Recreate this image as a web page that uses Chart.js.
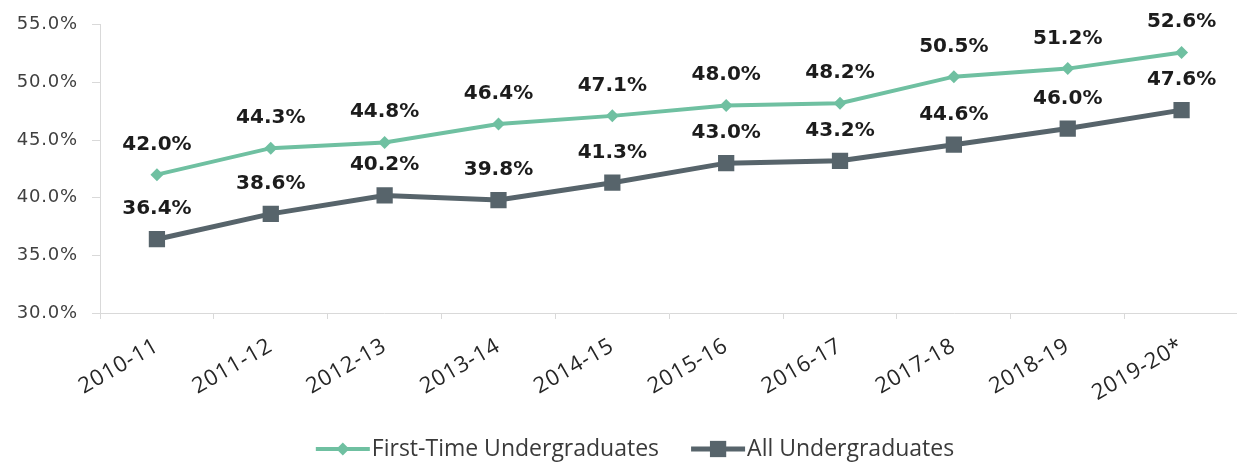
<!DOCTYPE html>
<html>
<head>
<meta charset="utf-8">
<script src="https://cdn.jsdelivr.net/npm/chart.js@4"></script>
<style>
  html, body { margin: 0; padding: 0; background: #fff; overflow: hidden; }
  #wrap { width: 1250px; height: 463px; }
</style>
</head>
<body>
<div id="wrap"><canvas id="gradChart" width="1250" height="463"></canvas></div>
<script>
// Graduation rates by academic year
const years = ['2010-11', '2011-12', '2012-13', '2013-14', '2014-15', '2015-16', '2016-17', '2017-18', '2018-19', '2019-20*'];
const firstTimeRates = [42.0, 44.3, 44.8, 46.4, 47.1, 48.0, 48.2, 50.5, 51.2, 52.6];
const allRates = [36.4, 38.6, 40.2, 39.8, 41.3, 43.0, 43.2, 44.6, 46.0, 47.6];
const yTicks = [30, 35, 40, 45, 50, 55];

const GREEN = '#6fc0a1';
const SLATE = '#57646b';
const AXIS = '#d9d9d9';

// slightly looser tracking for the axis text
const axisTracking = {
  id: 'axisTracking',
  beforeDraw(chart) { chart.ctx.letterSpacing = '0.8px'; },
  beforeDatasetsDraw(chart) { chart.ctx.letterSpacing = '0px'; }
};

// value labels above every point
const valueLabels = {
  id: 'valueLabels',
  afterDatasetsDraw(chart) {
    const ctx = chart.ctx;
    ctx.save();
    ctx.font = 'bold 20px "DejaVu Sans"';
    ctx.fillStyle = '#1c1c1c';
    ctx.textAlign = 'center';
    ctx.textBaseline = 'alphabetic';
    chart.data.datasets.forEach((ds, i) => {
      chart.getDatasetMeta(i).data.forEach((pt, j) => {
        ctx.fillText(ds.data[j].toFixed(1) + '%', pt.x, pt.y - 25);
      });
    });
    ctx.restore();
  }
};

// legend: line + marker swatch, then the series name
const lineLegend = {
  id: 'lineLegend',
  afterDraw(chart) {
    const ctx = chart.ctx;
    const y = 449;
    const swatch = 54;
    const gap = 32;
    ctx.save();
    ctx.font = '23px "Open Sans"';
    ctx.textBaseline = 'middle';
    const items = chart.data.datasets.map(ds => ({ ds, w: swatch + 2 + ctx.measureText(ds.label).width }));
    const total = items.reduce((s, it) => s + it.w, 0) + gap * (items.length - 1);
    let x = 635 - total / 2;
    items.forEach(({ ds, w }) => {
      ctx.strokeStyle = ds.borderColor;
      ctx.lineWidth = ds.borderWidth;
      ctx.beginPath();
      ctx.moveTo(x, y);
      ctx.lineTo(x + swatch, y);
      ctx.stroke();
      ctx.fillStyle = ds.pointBackgroundColor;
      const cx = x + swatch / 2;
      if (ds.pointStyle === 'rectRot') {
        const r = ds.pointRadius;
        ctx.beginPath();
        ctx.moveTo(cx, y - r);
        ctx.lineTo(cx + r, y);
        ctx.lineTo(cx, y + r);
        ctx.lineTo(cx - r, y);
        ctx.closePath();
        ctx.fill();
      } else {
        const s = ds.pointRadius * Math.SQRT2;
        ctx.fillRect(cx - s / 2, y - s / 2, s, s);
      }
      ctx.fillStyle = '#3a3a3a';
      ctx.textAlign = 'left';
      ctx.fillText(ds.label, x + swatch + 2, y);
      x += w + gap;
    });
    ctx.restore();
  }
};

new Chart(document.getElementById('gradChart'), {
  type: 'line',
  data: {
    labels: years,
    datasets: [
      {
        label: 'First-Time Undergraduates',
        data: firstTimeRates,
        borderColor: GREEN,
        backgroundColor: GREEN,
        pointBackgroundColor: GREEN,
        pointBorderWidth: 0,
        borderWidth: 4,
        pointStyle: 'rectRot',
        pointRadius: 6.5,
        tension: 0
      },
      {
        label: 'All Undergraduates',
        data: allRates,
        borderColor: SLATE,
        backgroundColor: SLATE,
        pointBackgroundColor: SLATE,
        pointBorderWidth: 0,
        borderWidth: 5,
        pointStyle: 'rect',
        pointRadius: 11.5,
        tension: 0
      }
    ]
  },
  options: {
    responsive: false,
    animation: false,
    layout: { padding: { top: 23, right: 0, left: 0, bottom: 0 } },
    plugins: {
      legend: { display: false },
      tooltip: { enabled: false }
    },
    scales: {
      x: {
        offset: true,
        grid: { drawOnChartArea: false, color: AXIS, tickLength: 6, offset: true },
        border: { color: AXIS },
        ticks: {
          minRotation: 30,
          maxRotation: 30,
          padding: 14,
          color: '#262626',
          font: { family: 'Open Sans', size: 22 }
        },
        afterFit(scale) { scale.height = 150; }
      },
      y: {
        min: 30,
        max: 55,
        afterBuildTicks(scale) { scale.ticks = yTicks.map(v => ({ value: v })); },
        grid: { drawOnChartArea: false, color: AXIS, tickLength: 8 },
        border: { color: AXIS },
        ticks: {
          padding: 14,
          color: '#404040',
          font: { family: 'DejaVu Sans', size: 18 },
          callback: v => v.toFixed(1) + '%'
        },
        afterFit(scale) { scale.width = 100; }
      }
    }
  },
  plugins: [axisTracking, valueLabels, lineLegend]
});
</script>
</body>
</html>
